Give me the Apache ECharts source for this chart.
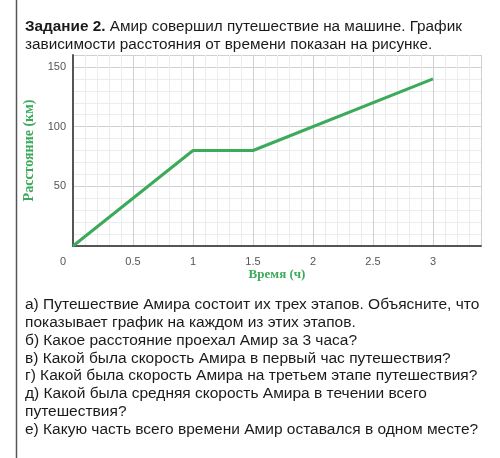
<!DOCTYPE html>
<html><head><meta charset="utf-8">
<script src="https://cdn.jsdelivr.net/npm/echarts@6/dist/echarts.min.js"></script>
<style>html,body{margin:0;padding:0;background:#fff}#c{width:500px;height:458px}</style>
</head><body><div id="c"></div>
<script>
const timeHours = [0, 1, 1.5, 3];
const distanceKm = [0, 80, 80, 140];
const xTickLabels = ['0', '0.5', '1', '1.5', '2', '2.5', '3'];
const yTickLabels = ['', '50', '100', '150'];
const headerBold = 'Задание 2.';
const headerRest = ' Амир совершил путешествие на машине. График';
const headerLine2 = 'зависимости расстояния от времени показан на рисунке.';
const questions = [
  'а) Путешествие Амира состоит их трех этапов. Объясните, что',
  'показывает график на каждом из этих этапов.',
  'б) Какое расстояние проехал Амир за 3 часа?',
  'в) Какой была скорость Амира в первый час путешествия?',
  'г) Какой была скорость Амира на третьем этапе путешествия?',
  'д) Какой была средняя скорость Амира в течении всего',
  'путешествия?',
  'е) Какую часть всего времени Амир оставался в одном месте?'
];

const chart = echarts.init(document.getElementById('c'), null, {renderer: 'canvas'});
const green = '#3caa5a';
const font = '"Liberation Sans", Arial, sans-serif';
const serif = '"Liberation Serif", "DejaVu Serif", serif';
function pick(arr, v, step) {
  const q = v / step;
  const i = Math.round(q);
  if (Math.abs(q - i) > 1e-6) return '';
  return arr[i] !== undefined ? arr[i] : '';
}
chart.setOption({
  animation: false,
  backgroundColor: '#fff',
  grid: {left: 73, right: 19, top: 55, bottom: 212, containLabel: false},
  xAxis: {
    type: 'value', min: 0, max: 3.4, interval: 0.5,
    name: 'Время (ч)', nameLocation: 'middle', nameGap: 22,
    nameTextStyle: {color: green, fontFamily: serif, fontWeight: 'bold', fontSize: 13},
    axisLine: {show: true, onZero: false, lineStyle: {color: '#555', width: 2}},
    axisTick: {show: false},
    axisLabel: {
      color: '#555', fontSize: 11, fontFamily: font, margin: 10,
      formatter: function (v) {
        const t = pick(xTickLabels, v, 0.5);
        return Math.abs(v) < 1e-9 ? '{z|' + t + '}' : t;
      },
      rich: {z: {color: '#555', fontSize: 11, fontFamily: font, padding: [0, 20, 0, 0]}}
    },
    splitLine: {show: true, lineStyle: {color: '#d0d0d0', width: 1}},
    minorTick: {show: false, splitNumber: 5},
    minorSplitLine: {show: true, lineStyle: {color: '#ececec', width: 1}}
  },
  yAxis: {
    type: 'value', min: 0, max: 160, interval: 50,
    name: 'Расстояние (км)', nameLocation: 'middle', nameGap: 33, nameRotate: 90,
    nameTextStyle: {color: green, fontFamily: serif, fontWeight: 'bold', fontSize: 14},
    axisLine: {show: true, onZero: false, lineStyle: {color: '#555', width: 2}},
    axisTick: {show: false},
    axisLabel: {
      color: '#555', fontSize: 11, fontFamily: font, margin: 7,
      formatter: function (v) { return pick(yTickLabels, v, 50); }
    },
    splitLine: {show: true, lineStyle: {color: '#d0d0d0', width: 1}},
    minorTick: {show: false, splitNumber: 5},
    minorSplitLine: {show: true, lineStyle: {color: '#ececec', width: 1}}
  },
  series: [{
    type: 'line',
    data: timeHours.map((t, i) => [t, distanceKm[i]]),
    symbol: 'none',
    lineStyle: {color: green, width: 3},
    z: 5
  }],
  graphic: [
    {type: 'line', shape: {x1: 16.5, y1: 0, x2: 16.5, y2: 458}, style: {stroke: '#555', lineWidth: 1.5}, silent: true},
    {type: 'text', left: 25, top: 19, style: {
      text: '{b|' + headerBold + '}{r|' + headerRest + '}\n{r|' + headerLine2 + '}',
      rich: {
        b: {fontFamily: font, fontSize: 15.3, fontWeight: 'bold', fill: '#1a1a1a', lineHeight: 18},
        r: {fontFamily: font, fontSize: 15.3, fill: '#1a1a1a', lineHeight: 18}
      }
    }},
    {type: 'text', left: 25, top: 296, style: {
      text: questions.join('\n'),
      font: '15.5px ' + font, fill: '#1a1a1a', lineHeight: 17.8
    }}
  ]
});
</script></body></html>
